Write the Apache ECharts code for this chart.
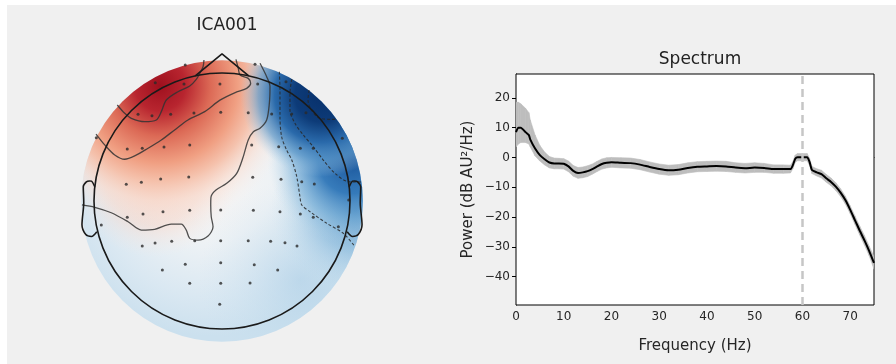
<!DOCTYPE html>
<html><head><meta charset="utf-8">
<script src="https://cdn.jsdelivr.net/npm/echarts@6/dist/echarts.min.js"></script>
<style>html,body{margin:0;padding:0;background:#fff}#c{width:896px;height:364px}</style>
</head><body><div id="c"></div>
<script>
// ---------------- Spectrum data ----------------
const freqs      = [0, 0.5, 1, 2, 2.7, 3, 4, 5, 6, 7, 8, 9, 10, 11, 12, 13, 14, 15, 16, 17, 18, 19, 20, 22, 24, 26, 28, 30, 32, 34, 36, 38, 40, 42, 44, 46, 48, 50, 52, 54, 56, 57.5, 58, 58.5, 59, 60, 61, 61.5, 62, 63, 64, 65, 66, 67, 68, 69, 70, 71, 72, 73, 74, 75];
const powerMean  = [8.5, 10, 10, 8.5, 7.5, 6, 3, 0.8, -0.6, -1.7, -2.0, -2.0, -2.1, -3.0, -4.5, -5.2, -5.0, -4.6, -3.9, -3.0, -2.2, -1.8, -1.6, -1.8, -1.9, -2.4, -3.2, -3.9, -4.3, -4.1, -3.5, -3.1, -3.0, -2.9, -3.0, -3.4, -3.6, -3.4, -3.5, -3.9, -3.9, -3.9, -2.6, -0.4, 0.1, 0.1, 0.1, -1.5, -4.2, -5.0, -5.6, -7.0, -8.2, -9.8, -11.8, -14.3, -17.5, -21.0, -24.5, -27.8, -31.4, -35.4];
const powerLow   = [3.5, 4.5, 5, 5, 4.5, 3.5, 0.5, -1.2, -2.5, -3.5, -3.8, -3.8, -3.9, -4.8, -6.3, -7.0, -6.8, -6.4, -5.6, -4.7, -3.9, -3.5, -3.3, -3.5, -3.6, -4.1, -4.9, -5.6, -6.0, -5.8, -5.2, -4.8, -4.7, -4.6, -4.7, -5.0, -5.2, -5.0, -5.0, -5.3, -5.3, -5.2, -3.8, -1.6, -1.1, -1.1, -1.1, -2.7, -5.4, -6.2, -6.9, -8.3, -9.5, -11.1, -13.1, -15.6, -18.8, -22.4, -26.0, -29.4, -33.0, -37.5];
const powerHigh  = [18.5, 18.5, 18, 16.5, 15, 12.5, 7.5, 4, 1.8, 0.3, -0.2, -0.3, -0.4, -1.2, -2.7, -3.4, -3.2, -2.8, -2.2, -1.3, -0.5, -0.1, 0, -0.1, -0.2, -0.7, -1.5, -2.2, -2.6, -2.4, -1.8, -1.4, -1.3, -1.2, -1.3, -1.8, -2.0, -1.8, -2.0, -2.5, -2.5, -2.6, -1.4, 0.8, 1.3, 1.3, 1.3, -0.3, -3.0, -3.8, -4.3, -5.7, -6.9, -8.5, -10.5, -13.0, -16.2, -19.6, -23.0, -26.2, -29.8, -33.3];
const freqTicks  = [0, 10, 20, 30, 40, 50, 60, 70];
const powerTicks = [-40, -30, -20, -10, 0, 10, 20];
const lineNoiseFreq = [60];

// ---------------- Topomap data (head-radius units) ----------------
const sensorX = [-0.287, 0.258, -0.521, -0.297, -0.016, 0.279, 0.5, -0.656, -0.547, -0.401, -0.219, -0.010, 0.205, 0.388, 0.545, 0.656, -0.982, 0.940, -0.740, -0.623, -0.453, -0.252, 0.232, 0.443, 0.612, 0.713, -0.748, -0.630, -0.479, -0.260, 0.240, 0.461, 0.623, 0.721, 0.990, -0.740, -0.617, -0.461, -0.252, -0.010, 0.245, 0.453, 0.612, 0.713, -0.943, 0.909, -0.623, -0.523, -0.393, -0.213, -0.010, 0.205, 0.380, 0.492, 0.586, -0.466, -0.287, -0.010, 0.252, 0.435, -0.252, -0.010, 0.219, -0.018];
const sensorY = [1.063, 1.068, 0.924, 0.914, 0.914, 0.914, 0.932, 0.677, 0.666, 0.677, 0.688, 0.693, 0.690, 0.680, 0.680, 0.690, 0.495, 0.490, 0.406, 0.412, 0.422, 0.438, 0.438, 0.424, 0.412, 0.412, 0.130, 0.146, 0.172, 0.188, 0.185, 0.170, 0.151, 0.133, 0.008, -0.127, -0.102, -0.084, -0.073, -0.070, -0.073, -0.084, -0.102, -0.127, -0.188, -0.201, -0.352, -0.328, -0.315, -0.310, -0.310, -0.310, -0.315, -0.326, -0.352, -0.539, -0.495, -0.482, -0.498, -0.539, -0.643, -0.643, -0.641, -0.807];
// solid (positive / zero) contours
const contourA = [[-0.818,0.750],[-0.760,0.685],[-0.708,0.646],[-0.604,0.620],[-0.513,0.633],[-0.474,0.698],[-0.435,0.789],[-0.344,0.854],[-0.252,0.898],[-0.201,0.950],[-0.174,0.997],[-0.148,1.049],[-0.141,1.102]];
const contourB = [[-0.984,0.523],[-0.916,0.438],[-0.838,0.360],[-0.760,0.326],[-0.682,0.352],[-0.578,0.412],[-0.474,0.477],[-0.370,0.555],[-0.266,0.633],[-0.135,0.698],[-0.016,0.788],[0.115,0.852],[0.193,0.880],[0.224,0.919],[0.205,0.958],[0.141,0.984],[0.127,1.037],[0.109,1.107]];
const contourC = [[0.297,1.076],[0.349,0.971],[0.375,0.893],[0.370,0.763],[0.349,0.633],[0.297,0.568],[0.245,0.541],[0.205,0.477],[0.166,0.346],[0.115,0.216],[0.037,0.138],[-0.047,0.086],[-0.086,0.031],[-0.088,-0.031],[-0.084,-0.123],[-0.070,-0.201],[-0.109,-0.273],[-0.188,-0.305],[-0.252,-0.292],[-0.279,-0.227],[-0.318,-0.180],[-0.396,-0.180],[-0.526,-0.221],[-0.630,-0.227],[-0.734,-0.162],[-0.865,-0.092],[-0.994,-0.049],[-1.094,-0.031]];
// dashed (negative) contours
const contourD1 = [[0.448,1.010],[0.453,0.867],[0.453,0.659],[0.466,0.502],[0.505,0.398],[0.545,0.320],[0.584,0.190],[0.609,0.034],[0.623,-0.031],[0.688,-0.084],[0.818,-0.174],[0.947,-0.252],[1.039,-0.357]];
const contourD2 = [[0.545,0.953],[0.531,0.841],[0.531,0.711],[0.570,0.607],[0.635,0.516],[0.713,0.424],[0.791,0.320],[0.883,0.216],[0.987,0.151],[1.086,0.148]];
const contourD3 = [[0.680,0.867],[0.672,0.789],[0.698,0.711],[0.763,0.646],[0.867,0.638],[0.891,0.641]];
// head outline
const headCircle = [[0, 0, 1]];
const fieldDisk  = [[0, 0, 1.1]];
const noseX = [-0.209, 0, 0.209];
const noseY = [0.978, 1.15, 0.978];
const earX  = [0.994, 1.02, 1.036, 1.0598, 1.0838, 1.08, 1.094, 1.064, 1.02, 0.978];
const earY  = [0.111, 0.155, 0.1566, 0.1492, 0.111, -0.011, -0.1864, -0.2626, -0.2768, -0.2398];

// ---------------- styles ----------------
const FONT = 'DejaVu Sans';
function radial(x, y, r, stops) {
  return { type: 'radial', x: x, y: y, r: r, global: false,
    colorStops: stops.map(function (s) { return { offset: s[0], color: s[1] }; }) };
}
// gradient centres are relative to the coloured disk's bounding box
const fieldLayers = [
  radial(0.46, 0.42, 0.56, [[0, '#f6f4f3'], [0.4, '#eef2f5'], [0.75, '#dae8f2'], [1, '#cbe0ee']]),
  radial(0.777, 0.78, 0.36, [[0, 'rgba(170,205,230,0.55)'], [1, 'rgba(200,225,240,0)']]),
  radial(0.26, 0.40, 0.30, [[0, 'rgba(245,180,155,0.8)'], [0.6, 'rgba(247,208,192,0.5)'], [1, 'rgba(250,235,228,0)']]),
  radial(0.28, 0.09, 0.50, [[0, '#9e101e'], [0.18, '#b8252f'], [0.36, '#dc6a56'], [0.55, '#f09f82'], [0.68, 'rgba(245,192,170,0.95)'], [0.82, 'rgba(249,222,210,0.6)'], [1, 'rgba(248,241,238,0)']]),
  radial(0.975, 0.53, 0.30, [[0, 'rgba(60,130,190,0.9)'], [0.5, 'rgba(120,175,215,0.5)'], [1, 'rgba(200,225,240,0)']]),
  radial(0.962, 0.354, 0.30, [[0, 'rgba(25,85,155,1)'], [0.4, 'rgba(50,120,185,0.95)'], [0.7, 'rgba(120,175,215,0.6)'], [1, 'rgba(190,218,236,0)']]),
  radial(0.855, 0.124, 0.29, [[0, '#08306b'], [0.33, '#0d3b78'], [0.58, '#2a6aab'], [0.78, 'rgba(90,150,200,0.7)'], [1, 'rgba(170,205,230,0)']])
];
const outline = { color: '#1a1a1a', width: 1.6 };
const contourSolid = { color: 'rgba(50,50,50,0.85)', width: 1.3 };
const contourDash  = { color: 'rgba(40,40,40,0.85)', width: 1.1, type: [3, 2] };

function pairs(xs, ys) { return xs.map(function (x, i) { return [x, ys[i]]; }); }
function lineSeries(data, style, z) {
  return { type: 'line', xAxisIndex: 0, yAxisIndex: 0, data: data, showSymbol: false, symbol: 'none',
    smooth: 0.3, lineStyle: style, silent: true, z: z || 4, clip: false, animation: false };
}
// band segments built from the low/high arrays
const bandData = freqs.slice(0, -1).map(function (f, i) {
  return [f, powerLow[i], powerHigh[i], freqs[i + 1], powerLow[i + 1], powerHigh[i + 1]];
});

const axisText = { fontFamily: FONT, fontSize: 12, color: '#262626' };
const chart = echarts.init(document.getElementById('c'), null, { renderer: 'canvas' });
chart.setOption({
  animation: false,
  backgroundColor: '#ffffff',
  graphic: [{ type: 'rect', left: 7, top: 5, z: -10, shape: { width: 889, height: 359 }, style: { fill: '#f0f0f0' }, silent: true }],
  title: [
    { text: 'ICA001', left: 222, top: 12, textAlign: 'center', textStyle: { fontFamily: FONT, fontSize: 17, fontWeight: 'normal', color: '#222' } },
    { text: 'Spectrum', left: 695, top: 46, textAlign: 'center', textStyle: { fontFamily: FONT, fontSize: 17, fontWeight: 'normal', color: '#222' } }
  ],
  grid: [
    { left: 30, top: 21.8, width: 384, height: 332.8, show: false },
    { left: 516, top: 74, width: 358, height: 231, show: true, backgroundColor: '#ffffff', borderColor: '#000', borderWidth: 1, z: 1 }
  ],
  xAxis: [
    { gridIndex: 0, type: 'value', min: -1.5, max: 1.5, show: false },
    { gridIndex: 1, type: 'value', min: 0, max: 75,
      axisLine: { show: true, lineStyle: { color: '#000', width: 1 } },
      axisTick: { show: true, length: 4, lineStyle: { color: '#000' }, customValues: freqTicks },
      axisLabel: Object.assign({ customValues: freqTicks, margin: 6 }, axisText),
      splitLine: { show: false },
      name: 'Frequency (Hz)', nameLocation: 'middle', nameGap: 34,
      nameTextStyle: { fontFamily: FONT, fontSize: 15, color: '#262626' } }
  ],
  yAxis: [
    { gridIndex: 0, type: 'value', min: -1.2, max: 1.4, show: false },
    { gridIndex: 1, type: 'value', min: -49.5, max: 28,
      axisLine: { show: true, lineStyle: { color: '#000', width: 1 } },
      axisTick: { show: true, length: 4, lineStyle: { color: '#000' }, customValues: powerTicks },
      axisLabel: Object.assign({ customValues: powerTicks, margin: 6,
        formatter: function (v) { return String(v).replace('-', '\u2212'); } }, axisText),
      splitLine: { show: false },
      name: 'Power (dB AU\u00b2/Hz)', nameLocation: 'middle', nameGap: 40, nameRotate: 90,
      nameTextStyle: { fontFamily: FONT, fontSize: 15, color: '#262626' } }
  ],
  series: [
    { type: 'custom', xAxisIndex: 0, yAxisIndex: 0, data: fieldDisk, silent: true, z: 1,
      renderItem: function (params, api) {
        const c = api.coord([api.value(0), api.value(1)]);
        const r = api.size([api.value(2), 0])[0];
        return { type: 'group', children: fieldLayers.map(function (g) {
          return { type: 'circle', shape: { cx: c[0], cy: c[1], r: r }, style: { fill: g } }; }) };
      } },
    lineSeries(contourA, contourSolid, 3),
    lineSeries(contourB, contourSolid, 3),
    lineSeries(contourC, contourSolid, 3),
    lineSeries(contourD1, contourDash, 3),
    lineSeries(contourD2, contourDash, 3),
    lineSeries(contourD3, contourDash, 3),
    { type: 'scatter', xAxisIndex: 0, yAxisIndex: 0, data: pairs(sensorX, sensorY), symbolSize: 3,
      itemStyle: { color: '#2a2a2a' }, silent: true, z: 4 },
    { type: 'custom', xAxisIndex: 0, yAxisIndex: 0, data: headCircle, silent: true, z: 5,
      renderItem: function (params, api) {
        const c = api.coord([api.value(0), api.value(1)]);
        const r = api.size([api.value(2), 0])[0];
        return { type: 'circle', shape: { cx: c[0], cy: c[1], r: r },
          style: { fill: 'none', stroke: outline.color, lineWidth: outline.width } };
      } },
    Object.assign(lineSeries(pairs(noseX, noseY), outline, 5), { smooth: false }),
    lineSeries(pairs(earX, earY), outline, 5),
    lineSeries(pairs(earX.map(function (x) { return -x; }), earY), outline, 5),

    // spectrum band (mean ± spread)
    { type: 'custom', xAxisIndex: 1, yAxisIndex: 1, data: bandData, silent: true, z: 2, clip: true,
      encode: { x: [0, 3], y: [1, 2, 4, 5] },
      renderItem: function (params, api) {
        const a = api.coord([api.value(0), api.value(1)]);
        const b = api.coord([api.value(0), api.value(2)]);
        const c = api.coord([api.value(3), api.value(5)]);
        const d = api.coord([api.value(3), api.value(4)]);
        return { type: 'polygon', shape: { points: [a, b, c, d] },
          style: { fill: '#bdbdbd', stroke: '#bdbdbd', lineWidth: 0.6 } };
      },
      markLine: { silent: true, symbol: 'none', label: { show: false },
        lineStyle: { color: '#c6c6c6', width: 2.5, type: [8, 5] },
        data: lineNoiseFreq.map(function (f) { return { xAxis: f }; }) } },
    { type: 'line', xAxisIndex: 1, yAxisIndex: 1, symbol: 'none', smooth: 0.2,
      data: pairs(freqs, powerMean), lineStyle: { color: '#000', width: 2 }, silent: true, z: 3 }
  ]
});
</script></body></html>
